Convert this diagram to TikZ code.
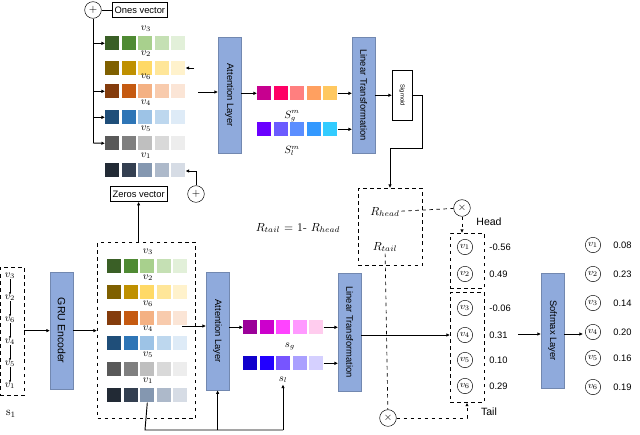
\documentclass[tikz,border=0pt]{standalone}
\usepackage{amsmath}
\usepackage{fontspec}
\setsansfont{Liberation Sans}
\usetikzlibrary{arrows.meta}
\definecolor{blk}{HTML}{8FAADC}
\begin{document}
\begin{tikzpicture}[x=0.03cm,y=-0.03cm,thick,font=\sffamily\footnotesize,
  >={Latex[length=3pt,width=3pt]},
  block/.style={draw=blk!80!black,very thin,fill=blk,minimum width=0.69cm,anchor=north west,inner sep=0pt},
  btxt/.style={rotate=-90,font=\sffamily\footnotesize},
  cell/.style={minimum size=0.41cm,inner sep=0pt,anchor=north west},
  vbox/.style={draw,thin,font=\sffamily\footnotesize,minimum height=0.45cm,inner sep=2pt},
  dbox/.style={draw,dashed,semithick},
  dl/.style={dashed,semithick,draw=black},
  vc/.style={circle,draw,thin,inner sep=0pt,minimum size=0.46cm,font=\footnotesize},
  op/.style={circle,draw,thin,inner sep=0pt,minimum size=0.5cm,font=\small},
  val/.style={font=\sffamily\footnotesize,anchor=west},
  lab/.style={font=\small,inner sep=1pt}]
\useasboundingbox (0,0) rectangle (640,434);

% row colours
\def\cg{3A5F26,4F8A33,A8D08D,C5E0B4,E2F0D9}
\def\cy{7F6000,BF9000,FFD966,FFE699,FFF2CC}
\def\co{843C0C,C55A11,F4B183,F8CBAD,FBE5D6}
\def\cb{1F4E79,2E75B6,9DC3E6,BDD7EE,DEEBF7}
\def\cs{595959,7F7F7F,BFBFBF,D9D9D9,EDEDED}
\def\cd{222A35,333F50,8497B0,ADB9CA,D6DCE5}
\newcommand\cellrow[4]{% name, x, y, colours
  \foreach \c [count=\i from 0] in #4 {
    \definecolor{tmp}{HTML}{\c}
    \node[cell,fill=tmp] (#1\i) at ({#2+\i*16.5},#3) {};
  }}

% ---------- top part ----------
\node[op] (plus1) at (93,10) {$+$};
\node[vbox,anchor=west] (ones) at (112,10) {Ones vector};
\draw (plus1) -- (ones);
\cellrow{ta}{105}{36}{\cg}
\cellrow{tb}{105}{61}{\cy}
\cellrow{tc}{105}{84}{\co}
\cellrow{td}{105}{110}{\cb}
\cellrow{te}{105}{136}{\cs}
\cellrow{tf}{105}{163}{\cd}
\node[lab] at (146,29) {$v_3$};
\node[lab] at (146,54) {$v_2$};
\node[lab] at (146,77) {$v_6$};
\node[lab] at (146,103) {$v_4$};
\node[lab] at (146,129) {$v_5$};
\node[lab] at (146,156) {$v_1$};
\coordinate (tl) at (93,143);
\draw (plus1) -- (tl);
\foreach \r in {ta,tc,td} \draw[->] (93,0 |- \r0.west) -- (\r0.west);
\draw[->] (tl) -- (te0.west);
\coordinate (tb5) at (194,68);
\draw[->] (tb5) -- (tb4.east |- tb5);
\node[vbox,anchor=west] (zeros) at (110,194) {Zeros vector};
\node[op] (plus2) at (196,194) {$+$};
\coordinate (tf5) at (196,171);
\draw (plus2) -- (tf5);
\draw[->] (tf5) -- (tf4.east |- tf5);

\node[block,minimum height=3.48cm] (att1) at (218,37) {};
\node[btxt] at (att1) {Attention Layer};
\coordinate (tin) at (198,92);
\draw[->] (tin) -- (att1.west |- tin);

\def\csg{C7008F,FF0066,FF7F7F,FFA060,FFC860}
\def\csl{6A00FF,6B5BFF,5B8EFF,3399FF,33CCFF}
\cellrow{ga}{257}{86}{\csg}
\cellrow{la}{257}{122}{\csl}
\node[lab] at (292,116) {$S_g^m$};
\node[lab] at (292,151) {$S_l^m$};
\draw[->] (att1.east |- ga0.west) -- (ga0.west);

\node[block,minimum height=3.48cm] (lin1) at (352,37) {};
\node[btxt] at (lin1) {Linear Transformation};
\draw[->] (ga4.east) -- (lin1.west |- ga4.east);
\draw[->] (la4.east) -- (lin1.west |- la4.east);

\node[draw,thin,minimum width=0.6cm,minimum height=1.5cm,inner sep=0pt,anchor=north west] (sig) at (392,70) {};
\node[rotate=-90,font=\sffamily\tiny] at (sig) {Sigmoid};
\draw[->] (lin1.east |- sig.west) -- (sig.west);

% ---------- bottom part ----------
\node[dbox,thin,minimum width=0.72cm,minimum height=3.84cm,anchor=north west] (s1) at (0,267) {};
\foreach \n/\y [count=\k] in {3/276,2/298,6/320,4/342,5/364,1/386}
  \node[font=\small,inner sep=0pt] (sv\k) at (10,\y) {$v_{\n}$};
\foreach \a/\b in {1/2,2/3,3/4,4/5,5/6}
  \draw[thin,->,>={Latex[length=2pt,width=2pt]}] (sv\a) -- (sv\b);
\node[font=\normalsize] at (11,414) {s$_1$};

\node[block,minimum height=3.51cm] (gru) at (50,272) {};
\node[btxt,font=\sffamily\small] at (gru) {GRU Encoder};
\draw[->] (s1.east |- gru.west) -- (gru.west);

\node[draw,dashed,very thick,minimum width=2.94cm,minimum height=5.28cm,anchor=north west] (big) at (97,242) {};
\draw[->] (gru.east) -- (big.west |- gru.east);
\draw[->] (big.north -| zeros) -- (zeros.south);

\cellrow{ba}{107}{259}{\cg}
\cellrow{bb}{107}{285}{\cy}
\cellrow{bc}{107}{311}{\co}
\cellrow{bd}{107}{336}{\cb}
\cellrow{be}{107}{362}{\cs}
\cellrow{bf}{107}{388}{\cd}
\node[lab] at (148,252) {$v_3$};
\node[lab] at (148,278) {$v_2$};
\node[lab] at (148,304) {$v_6$};
\node[lab] at (148,329) {$v_4$};
\node[lab] at (148,355) {$v_5$};
\node[lab] at (148,381) {$v_1$};

\node[block,minimum height=3.54cm] (att2) at (206,272) {};
\node[btxt] at (att2) {Attention Layer};
\coordinate (bin) at (182,326);
\draw[->] (bin) -- (att2.west |- bin);

\def\bsg{9B0099,CC00CC,FF44FF,FF99FF,FFCCEE}
\def\bsl{1100CC,2200FF,7755FF,AAA0FF,D5D0FF}
\cellrow{gb}{243}{320}{\bsg}
\cellrow{lb}{243}{356}{\bsl}
\node[lab] (sg) at (290,346) {$s_g$};
\node[lab] (sl) at (283,380) {$s_l$};
\draw[->] (att2.east |- gb0.west) -- (gb0.west);

\node[block,minimum height=3.54cm] (lin2) at (338,273) {};
\node[btxt] at (lin2) {Linear Transformation};
\draw[->] (gb4.east) -- (lin2.west |- gb4.east);
\draw[->] (lb4.east) -- (lin2.west |- lb4.east);

\coordinate (loop) at (145,430);
\draw (bf2.south) -- (loop) -- (283,430);
\draw[->] (att2.south |- loop) -- (att2.south);
\draw[->] (283,430) -- (sl.south);

% R box
\node[dbox,minimum width=1.92cm,minimum height=2.31cm,anchor=north west] (R) at (358,188) {};
\node[lab,font=\normalsize] (rh) at (385,212) {$R_{head}$};
\node[lab,font=\normalsize] (rt) at (385,247) {$R_{tail}$};
\node[font=\normalsize] at (298,228) {$R_{tail}$ = 1- $R_{head}$};
\draw[->] (sig.east) -| (422,148) -| (R.north -| 390,0);

\node[op] (mh) at (462,208) {$\times$};
\node[op] (mt) at (388,418) {$\times$};
\node[dbox,minimum width=1.02cm,minimum height=1.65cm,anchor=north west] (hb) at (450,233) {};
\node[dbox,minimum width=1.02cm,minimum height=3.3cm,anchor=north west] (tb) at (450,292) {};
\node[font=\sffamily\small] at (489,222) {Head};
\node[font=\sffamily\small] at (489,412) {Tail};
\draw[dl] (rh) -- (mh);
\draw[dl,->] (mh) -- (hb.north -| mh);
\draw[dl] (rt) -- (mt);
\draw[dl,->] (mt) -| (tb.south -| 467,0);

\foreach \n/\y/\v in {1/247/-0.56,2/274/0.49,3/308/-0.06,4/335/0.31,5/360/0.10,6/386/0.29} {
  \node[vc] (h\n) at (465,\y) {$v_{\n}$};
  \node[val] at (485,\y) {\v};
}
\draw[->] (lin2.east |- h4) -- (tb.west |- h4);

\node[block,minimum height=3.45cm] (soft) at (541,273) {};
\node[btxt] at (soft) {Softmax Layer};
\coordinate (tout) at (518,334);
\draw[->] (tout) -- (soft.west |- tout);
\coordinate (sout) at (583,334);
\draw[->] (soft.east |- sout) -- (sout);
\foreach \n/\y/\v in {1/245/0.08,2/274/0.23,3/303/0.14,4/332/0.20,5/358/0.16,6/387/0.19} {
  \node[vc] (o\n) at (593,\y) {$v_{\n}$};
  \node[val] at (609,\y) {\v};
}
\end{tikzpicture}
\end{document}
